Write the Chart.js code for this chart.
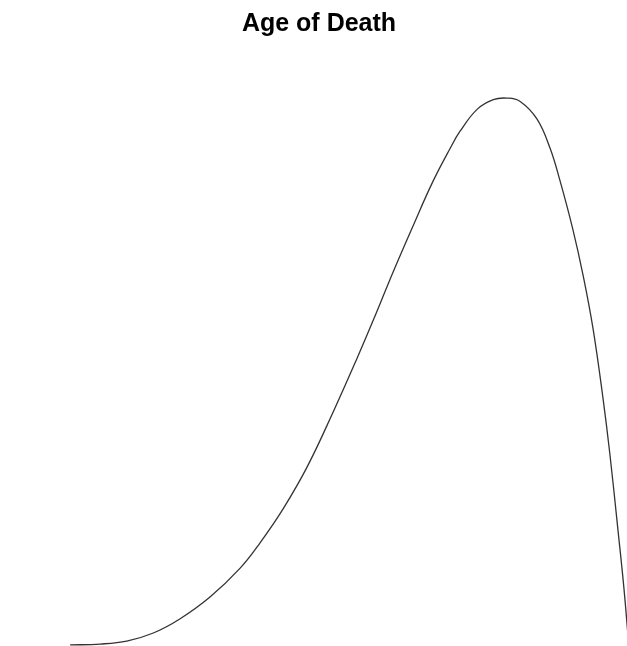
<!DOCTYPE html>
<html lang="en">
<head>
  <meta charset="UTF-8" />
  <title>Age of Death</title>
  <style>
    html, body {
      margin: 0;
      padding: 0;
      background: #fff;
    }
    .wrap {
      width: 627px;
      height: 646px;
      position: relative;
    }
  </style>
</head>
<body>
  <div class="wrap">
    <canvas id="deathChart"></canvas>
  </div>

  <script src="https://cdn.jsdelivr.net/npm/chart.js"></script>
  <script>
    // age (years) and density
    const ages = [9.6, 14.5, 18.8, 23.1, 27.4, 32.3, 37.2, 40.4, 44.2, 48.1, 52.3, 56.2,
                  58.8, 62.0, 65.3, 68.5, 71.3, 72.9, 75.7, 78.3, 80.5, 82.6, 85.4, 87.5,
                  89.1, 91.2, 92.9, 94.5, 96.1, 97.2, 98.5, 99.5, 100.3];
    const density = [0.00007, 0.00013, 0.00033, 0.00087, 0.00181, 0.00328, 0.00522, 0.00690,
                     0.00921, 0.01202, 0.01568, 0.01930, 0.02182, 0.02503, 0.02818, 0.03113,
                     0.03335, 0.03449, 0.03597, 0.03661, 0.03671, 0.03650, 0.03530, 0.03336,
                     0.03121, 0.02793, 0.02478, 0.02123, 0.01661, 0.01293, 0.00790, 0.00388, 0.0];

    const points = ages.map((a, i) => ({ x: a, y: density[i] }));

    const ctx = document.getElementById('deathChart').getContext('2d');
    new Chart(ctx, {
      type: 'line',
      data: {
        datasets: [{
          label: 'Age of Death',
          data: points,
          borderColor: '#333',
          borderWidth: 1.3,
          pointRadius: 0,
          fill: false,
          tension: 0.4
        }]
      },
      options: {
        responsive: true,
        maintainAspectRatio: false,
        animation: false,
        layout: { padding: { left: 11, right: 0, top: 0, bottom: 0 } },
        plugins: {
          legend: { display: false },
          tooltip: { enabled: false },
          title: {
            display: true,
            text: 'Age of Death',
            color: '#000',
            font: { family: '"Liberation Sans", Arial, sans-serif', size: 25, weight: 'bold' },
            padding: { top: 9, bottom: 10 }
          }
        },
        scales: {
          x: { type: 'linear', min: 0, max: 100, display: false },
          y: { min: 0, max: 0.04, display: false }
        }
      }
    });
  </script>
</body>
</html>
